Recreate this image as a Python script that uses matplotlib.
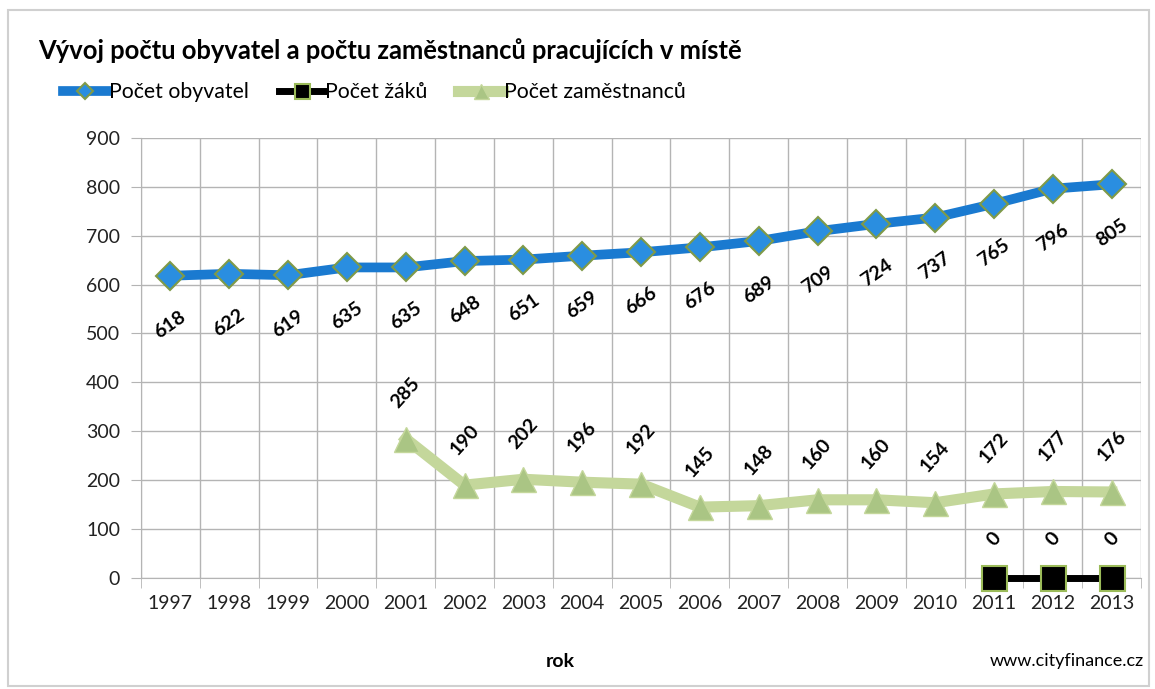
import numpy as np
import matplotlib
matplotlib.use("Agg")
import matplotlib.pyplot as plt
from matplotlib.patches import Rectangle

plt.rcParams['font.family'] = ['Lato', 'DejaVu Sans']

years = ['1997', '1998', '1999', '2000', '2001', '2002', '2003', '2004', '2005',
         '2006', '2007', '2008', '2009', '2010', '2011', '2012', '2013']
obyvatel = [618, 622, 619, 635, 635, 648, 651, 659, 666, 676, 689, 709, 724, 737, 765, 796, 805]
zaku = [None] * 14 + [0, 0, 0]
zamestnancu = [None] * 4 + [285, 190, 202, 196, 192, 145, 148, 160, 160, 154, 172, 177, 176]

def to_arr(vals):
    return np.array([np.nan if v is None else v for v in vals], dtype=float)

x = np.arange(len(years))
fig = plt.figure(figsize=(11.55, 6.89), dpi=100)
ax = fig.add_axes([0.122, 0.161, 0.866, 0.639])

grid_c = '#b4b4b4'
ax.plot(x, to_arr(obyvatel), color='#1a7ad0', lw=7, marker='D', ms=14,
        mfc='#2a8ee0', mec='#7f9a48', mew=1.5, label='Počet obyvatel', zorder=4)
ax.plot(x, to_arr(zaku), color='black', lw=5, marker='s', ms=18,
        mfc='black', mec='#9bbb59', mew=1.5, label='Počet žáků', zorder=5, clip_on=False)
ax.plot(x, to_arr(zamestnancu), color='#c4d79b', lw=8, marker='^', ms=18,
        mfc='#aac584', mec='#c4d79b', mew=1, label='Počet zaměstnanců', zorder=4)

# popisky hodnot
for xi, v in zip(x, obyvatel):
    ax.annotate(str(v), (xi, v), xytext=(0, -35), textcoords='offset points',
                ha='center', va='center', rotation=35, fontsize=14, fontweight='bold')
for xi, v in zip(x, zamestnancu):
    if v is not None:
        ax.annotate(str(v), (xi, v), xytext=(0, 33), textcoords='offset points',
                    ha='center', va='center', rotation=48, fontsize=14, fontweight='bold')
for xi, v in zip(x, zaku):
    if v is not None:
        ax.annotate(str(v), (xi, v), xytext=(0, 28), textcoords='offset points',
                    ha='center', va='center', rotation=48, fontsize=14, fontweight='bold')

ax.set_xlim(-0.5, len(years) - 0.5)
ax.set_ylim(0, 900)
ax.set_yticks(range(0, 901, 100))
ax.set_xticks(x)
ax.set_xticklabels(years)
ax.set_xticks(np.arange(-0.5, len(years), 1), minor=True)
ax.tick_params(axis='x', which='major', length=0, pad=12, labelsize=14, colors='#222222')
ax.tick_params(axis='x', which='minor', length=7, color=grid_c)
ax.tick_params(axis='y', length=7, color=grid_c, pad=8, labelsize=14, labelcolor='#222222')
ax.grid(axis='y', color=grid_c, lw=1)
ax.grid(axis='x', which='minor', color=grid_c, lw=1)
ax.set_axisbelow(True)
for s in ['top', 'right']:
    ax.spines[s].set_visible(False)
for s in ['left', 'bottom']:
    ax.spines[s].set_color(grid_c)

fig.text(0.033, 0.926, 'Vývoj počtu obyvatel a počtu zaměstnanců pracujících v místě',
         fontsize=18.4, fontweight='bold', ha='left', va='center')
fig.legend(loc='center left', bbox_to_anchor=(0.0545, 0.866), ncol=3, frameon=False,
           borderpad=0, borderaxespad=0, fontsize=15.3, handlelength=2.1,
           handletextpad=0.05, columnspacing=1.45, markerscale=0.6)
fig.text(0.485, 0.04, 'rok', fontsize=14, fontweight='bold', ha='center', va='center')
fig.text(0.99, 0.04, 'www.cityfinance.cz', fontsize=13, ha='right', va='center')

fig.patches.append(Rectangle((0.007, 0.005), 0.988, 0.98, transform=fig.transFigure,
                             fill=False, edgecolor='#d0d0d0', lw=1.5))

fig.savefig('out.png', dpi=100)
